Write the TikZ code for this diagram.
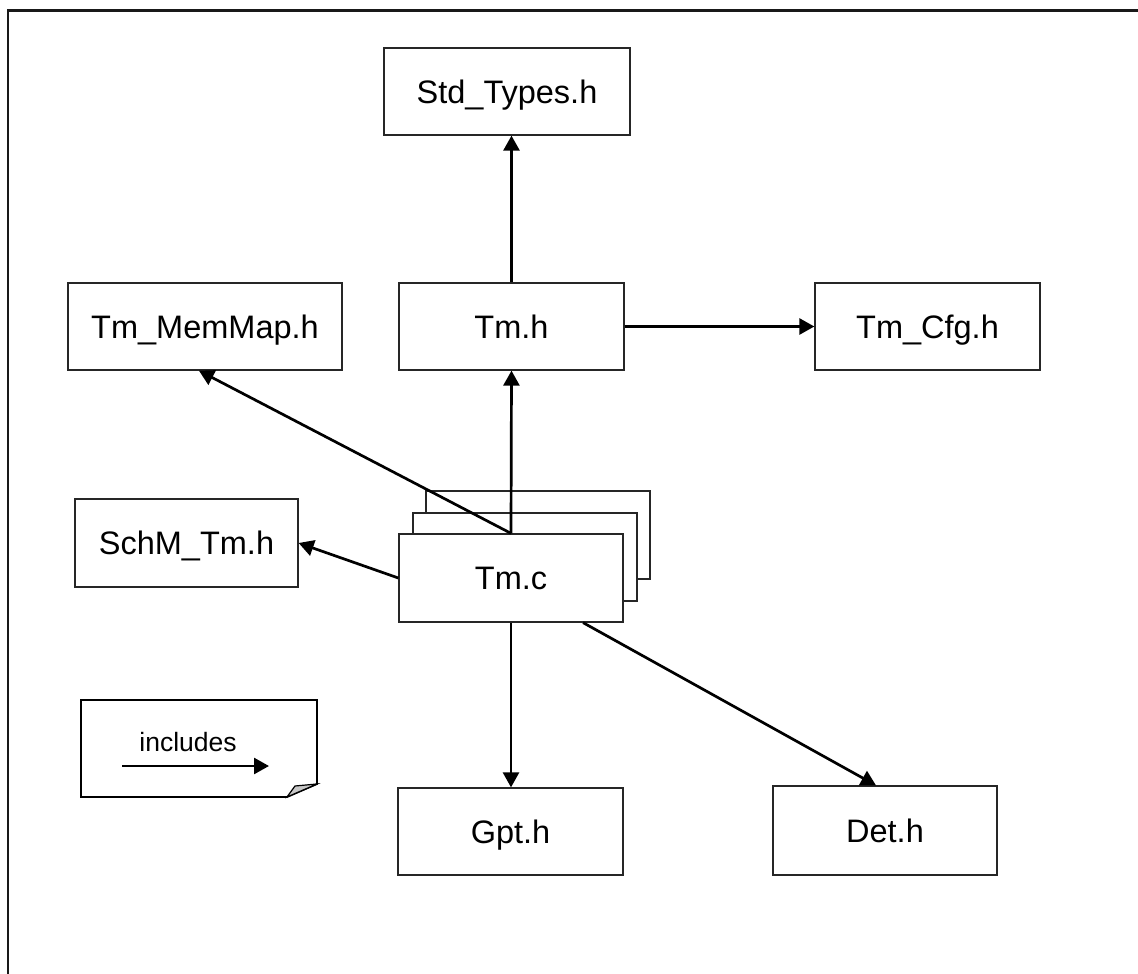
\documentclass[tikz,border=0pt]{standalone}
\usepackage{fontspec}
\setmainfont{Liberation Sans}
\usetikzlibrary{arrows.meta,calc}
\tikzset{
  filebox/.style={draw=black!85, line width=1.3pt, fill=white, rectangle, minimum width=225pt, minimum height=87pt, inner sep=0pt, text height=23.3pt, text depth=0pt, font=\fontsize{32.5}{37}\selectfont},
  incl/.style={line width=2.7pt, -{Triangle[length=15pt,width=16pt]}},
  backbox/.style={draw=black!85, line width=1.3pt, fill=white}
}
\begin{document}
\begin{tikzpicture}[x=1pt,y=-1pt]
\useasboundingbox (0,0) rectangle (1138,974);
\clip (0,0) rectangle (1138,974);
\draw[line width=2.2pt, draw=black!90] (8,1000) -- (8,10.5) -- (1160,10.5);
% nodes
\node[filebox, minimum width=246pt] (std) at (507,91.5) {Std\_Types.h};
\node[filebox] (tmh) at (511.5,326.5) {Tm.h};
\node[filebox, minimum width=274pt] (memmap) at (205,326.5) {Tm\_MemMap.h};
\node[filebox] (cfg) at (927.5,326.5) {Tm\_Cfg.h};
\node[filebox, minimum width=223pt, minimum height=88pt] (schm) at (186.5,543) {SchM\_Tm.h};
% stacked Tm.c
\draw[backbox] (426,491) rectangle (650,579);
\draw[backbox] (413,513) rectangle (637,601);
\node[filebox, minimum width=224pt, minimum height=88pt] (tmc) at (511,578) {Tm.c};
\node[filebox] (gpt) at (510.5,831.5) {Gpt.h};
\node[filebox, minimum width=224pt, minimum height=89pt] (det) at (885,830.5) {Det.h};
% connectors
\draw[incl] (tmh.north) -- (tmh.north |- std.south);
\draw[incl] (tmh.east) -- (cfg.west);
\draw[incl] (tmc.north) -- (tmh.south);
\draw[incl] (tmc.north) -- ($(memmap.south west)!0.478!(memmap.south east)$);
\draw[incl] (tmc.west) -- (schm.east);
\draw[incl] (tmc.south) -- (tmc.south |- gpt.north);
\draw[incl] ($(tmc.south west)!0.82!(tmc.south east)$) -- ($(det.north west)!0.46!(det.north east)$);
% legend
\draw[line width=1.8pt, fill=white] (81,700) -- (317,700) -- (317,784) -- (287,797) -- (81,797) -- cycle;
\draw[line width=1.2pt, fill=black!22] (287,797) -- (295,786) -- (317,784) -- cycle;
\node[font=\fontsize{26.5}{30}\selectfont, inner sep=0pt] (lbl) at (188,742) {includes};
\coordinate (la) at (122,766);
\coordinate (lb) at (269,766);
\draw[incl] (la) -- (lb);
\end{tikzpicture}
\end{document}
